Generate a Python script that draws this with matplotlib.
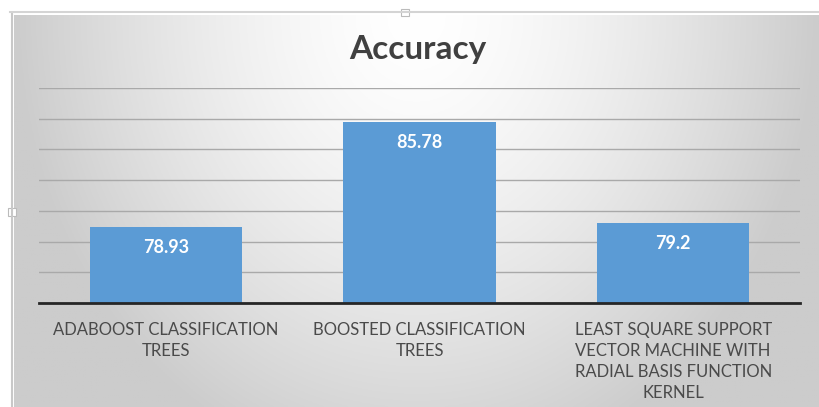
import numpy as np
import matplotlib.pyplot as plt
from matplotlib.patches import Rectangle

# data
categories = ['ADABOOST CLASSIFICATION\nTREES',
              'BOOSTED CLASSIFICATION\nTREES',
              'LEAST SQUARE SUPPORT\nVECTOR MACHINE WITH\nRADIAL BASIS FUNCTION\nKERNEL']
accuracy = [78.93, 85.78, 79.2]
value_labels = ['78.93', '85.78', '79.2']
y_ticks = [74, 76, 78, 80, 82, 84, 86, 88]

W, H = 819, 407
fig = plt.figure(figsize=(W / 100, H / 100), dpi=100)
fig.patch.set_facecolor('white')

# chart area background: soft radial gradient, white near the title
bg = fig.add_axes([14 / W, 0, (W - 14) / W, (H - 15) / H])
gx, gy = np.meshgrid(np.linspace(-1, 1, 400), np.linspace(0, 1, 200))
r = np.sqrt(gx ** 2 + ((1 - gy) / 1.2) ** 2)
shade = np.clip(1.0 - 0.2 * r ** 1.5, 0.8, 1.0)
img = np.dstack([shade, shade, shade])
bg.imshow(img, aspect='auto', extent=[0, 1, 0, 1], origin='lower')
bg.set_axis_off()

# frame lines of the embedded chart
fig.add_artist(plt.Line2D([12 / W, 12 / W], [0, 1 - 14 / H], color='#c8c8c8', lw=1.5))
fig.add_artist(plt.Line2D([10 / W, 1], [1 - 12 / H, 1 - 12 / H], color='#d4d4d4', lw=1.5))
fig.add_artist(Rectangle((401 / W, 1 - 16 / H), 8 / W, 7 / H, fc='white', ec='#bbbbbb', lw=0.8))
fig.add_artist(Rectangle((8 / W, 1 - 216 / H), 8 / W, 8 / H, fc='white', ec='#bbbbbb', lw=0.8))

ax = fig.add_axes([39 / W, (H - 303) / H, 761 / W, 215 / H])
ax.patch.set_alpha(0)

x = np.arange(len(categories))
bars = ax.bar(x, accuracy, width=0.6, color='#5b9bd5', zorder=3)
ax.set_xlim(-0.5, 2.5)
ax.set_ylim(74, 88)
ax.set_yticks(y_ticks)
ax.yaxis.grid(True, color='#a9a9a9', lw=1, zorder=0)
ax.tick_params(axis='y', left=False, labelleft=False)
ax.tick_params(axis='x', bottom=False, pad=10)
ax.set_xticks(x)
ax.set_xticklabels(categories, fontsize=12, color='#4a4a4a', family='Lato',
                   linespacing=1.38)
for s in ['left', 'right', 'top']:
    ax.spines[s].set_visible(False)
ax.spines['bottom'].set_color('#262626')
ax.spines['bottom'].set_linewidth(2)
ax.spines['bottom'].set_zorder(4)

for b, lab in zip(bars, value_labels):
    ax.annotate(lab, (b.get_x() + b.get_width() / 2, b.get_height()),
                xytext=(0, -14.5), textcoords='offset points', ha='center', va='center',
                color='white', fontsize=13, fontweight='bold', family='Lato', zorder=5)

fig.text(418 / W, 1 - 50 / H, 'Accuracy', ha='center', va='center',
         fontsize=24, fontweight='bold', color='#404040', family='Lato')

fig.savefig('out.png', dpi=100)
